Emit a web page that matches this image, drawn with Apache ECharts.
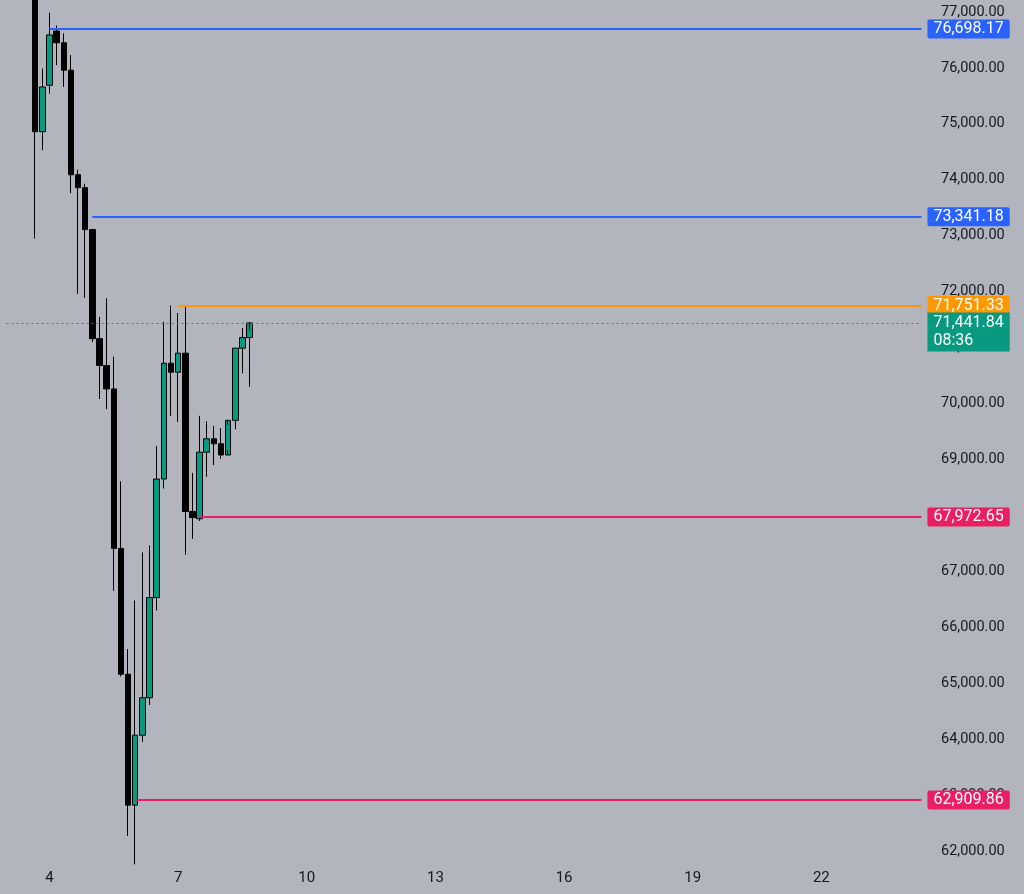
<!DOCTYPE html>
<html><head><meta charset="utf-8">
<script src="https://cdn.jsdelivr.net/npm/echarts@6/dist/echarts.min.js"></script>
<style>html,body{margin:0;padding:0;background:#b2b5be}#c{width:1024px;height:894px}</style>
</head><body><div id="c"></div>
<script>
// 4h candles starting Apr 3 16:00 ; [open, close, low, high]
const candles = [
 [77300,74860,72950,77600],
 [74860,75660,74530,75990],
 [75690,76590,75540,76990],
 [76660,76450,76050,76760],
 [76450,75960,75660,76620],
 [75960,74090,73760,76230],
 [74090,73860,71960,74180],
 [73860,73110,71890,73930],
 [73110,71160,71100,73110],
 [71160,70680,70080,71550],
 [70680,70260,69900,71880],
 [70260,67410,66650,70840],
 [67410,65160,65120,68610],
 [65160,62820,62270,65610],
 [62820,64070,61760,66480],
 [64070,64740,63950,67340],
 [64740,66530,64610,67460],
 [66530,68650,66300,69240],
 [68650,70720,68480,71460],
 [70720,70560,69780,71750],
 [70560,70900,69670,71620],
 [70900,68070,67300,71750],
 [68070,67960,67580,68760],
 [67940,69130,67900,69780],
 [69130,69370,68690,69680],
 [69370,69280,68900,69600],
 [69280,69080,69010,69560],
 [69080,69700,69160,69620],
 [69700,70990,69540,70990],
 [70990,71180,70540,71350],
 [71180,71442,70300,71300]
];
const levels = [
 {price:76698.17, start:2, color:'#2962ff'},
 {price:73341.18, start:8, color:'#2962ff'},
 {price:71751.33, start:20, color:'#ff9800'},
 {price:67972.65, start:23, color:'#e91e63'},
 {price:62909.86, start:14, color:'#e91e63'}
];
const lastPrice = 71441.84, countdown = '08:36';
const offset = 4, N = 129;
const categories = [];
for (let i = 0; i < N; i++) {
  const h = (i - offset) * 4 + 16;
  const day = 3 + Math.floor(h / 24), hr = h % 24;
  categories.push(day + ' ' + String(hr).padStart(2,'0') + ':00');
}
const data = categories.map((c, i) => {
  const k = i - offset;
  return (k >= 0 && k < candles.length) ? candles[k] : '-';
});
const fmt = v => v.toLocaleString('en-US',{minimumFractionDigits:2,maximumFractionDigits:2});
const mls = levels.map(l => [
  {coord:[l.start + offset, l.price], lineStyle:{color:l.color,width:2,type:'solid'},
   label:{show:true,position:'end',formatter:fmt(l.price),color:'#fff',backgroundColor:l.color,
          padding:[1,6,0,6],fontSize:16,lineHeight:18,fontFamily:'Roboto',distance:6,borderRadius:2}},
  {coord:[N-1, l.price]}
]);
const chart = echarts.init(document.getElementById('c'));
chart.setOption({
  backgroundColor:'#b2b5be', animation:false,
  grid:{left:3, right:99, top:12-55.93, bottom:894-(851+55.93), outerBoundsMode:'none', containLabel:false},
  xAxis:{type:'category', data:categories, boundaryGap:true,
    axisLine:{show:false}, axisTick:{show:false}, splitLine:{show:false},
    axisLabel:{margin:-36, color:'#131722', fontSize:15, fontFamily:'Roboto',
      interval:(i,v)=>{ const p=v.split(' '); return p[1]==='00:00' && (+p[0]-4)%3===0; },
      formatter:v=>v.split(' ')[0]}},
  yAxis:{type:'value', position:'right', min:61000, max:78000, interval:1000,
    axisLine:{show:false}, axisTick:{show:false}, splitLine:{show:false},
    axisLabel:{margin:16, color:'#131722', fontSize:14.5, fontFamily:'Roboto',
      formatter:v=> (v<=61000||v>=78000)?'':fmt(v)}},
  series:[{type:'candlestick', data:data, barWidth:6,
    itemStyle:{color:'#089981', color0:'#000', borderColor:'#000', borderColor0:'#000', borderWidth:1},
    markLine:{symbol:['none','none'], silent:true, data:[...mls,
      [{coord:[0,lastPrice], lineStyle:{color:'#089981',width:1,type:[2,3]},
        label:{show:true,position:'end',formatter:fmt(lastPrice)+'\n'+countdown,color:'#fff',
          backgroundColor:'#089981',padding:[1,6,2,6],fontSize:16,fontFamily:'Roboto',lineHeight:18,align:'left',distance:6,offset:[0,9]}},
       {coord:[N-1,lastPrice]}]
    ]}
  }]
});
</script></body></html>
